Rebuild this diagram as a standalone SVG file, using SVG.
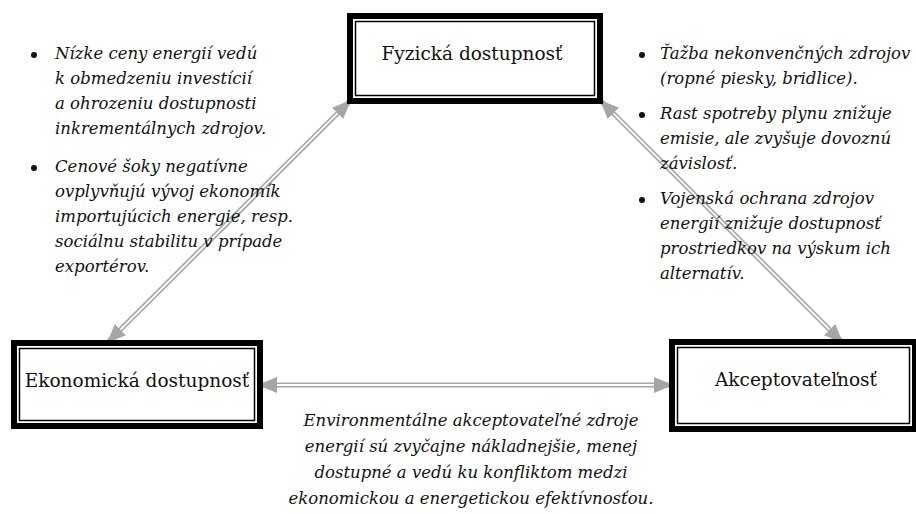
<svg xmlns="http://www.w3.org/2000/svg" width="916" height="514" viewBox="0 0 916 514">
  <defs>
    <marker id="head" markerUnits="userSpaceOnUse" markerWidth="20" markerHeight="17" refX="19" refY="8" orient="auto-start-reverse">
      <path d="M0,0 L19,8 L0,16 Z" fill="#a6a6a6"/>
    </marker>
    <style>
      .outer { fill: none; stroke: #000; stroke-width: 6; }
      .inner { fill: #fff; stroke: #000; stroke-width: 1.5; }
      .label { font-family: "DejaVu Serif", "Liberation Serif", serif; font-size: 18.5px; fill: #111; text-anchor: middle; }
      .note { font-family: "DejaVu Serif", "Liberation Serif", serif; font-style: italic; font-size: 16.5px; fill: #111; }
      .mid { text-anchor: middle; }
      .bullet { fill: #111; }
      .conn-g { fill: none; stroke: #a6a6a6; stroke-width: 5; }
      .conn-w { fill: none; stroke: #fff; stroke-width: 1.8; }
    </style>
  </defs>
  <rect width="916" height="514" fill="#fff"/>

  <g id="connectors">
    <path class="conn-g" d="M351,100 L107,343" marker-start="url(#head)" marker-end="url(#head)"/>
    <path class="conn-w" d="M337.5,113.4 L120.5,329.6"/>
    <path class="conn-g" d="M600,100 L843,343" marker-start="url(#head)" marker-end="url(#head)"/>
    <path class="conn-w" d="M613.4,113.4 L829.6,329.6"/>
    <path class="conn-g" d="M258,385 L673,385" marker-start="url(#head)" marker-end="url(#head)"/>
    <path class="conn-w" d="M277,385 L654,385"/>
  </g>

  <g id="node-fyzicka">
    <rect class="inner" x="355.5" y="21.5" width="239" height="74"/>
    <rect class="outer" x="350" y="16" width="250" height="85"/>
    <text class="label" x="472" y="60">Fyzická dostupnosť</text>
  </g>

  <g id="node-ekonomicka">
    <rect class="inner" x="19.5" y="348.5" width="235" height="72"/>
    <rect class="outer" x="14" y="343" width="246" height="83"/>
    <text class="label" x="137" y="387">Ekonomická dostupnosť</text>
  </g>

  <g id="node-akceptovatelnost">
    <rect class="inner" x="677.5" y="347.5" width="232" height="76"/>
    <rect class="outer" x="672" y="342" width="243" height="87"/>
    <text class="label" x="796" y="386">Akceptovateľnosť</text>
  </g>

  <g id="notes-left">
    <circle class="bullet" cx="34" cy="55" r="3"/>
    <text class="note" x="55" y="59">Nízke ceny energií vedú</text>
    <text class="note" x="55" y="84">k obmedzeniu investícií</text>
    <text class="note" x="55" y="109">a ohrozeniu dostupnosti</text>
    <text class="note" x="55" y="134">inkrementálnych zdrojov.</text>
    <circle class="bullet" cx="34" cy="168" r="3"/>
    <text class="note" x="55" y="172">Cenové šoky negatívne</text>
    <text class="note" x="55" y="197">ovplyvňujú vývoj ekonomík</text>
    <text class="note" x="55" y="222">importujúcich energie, resp.</text>
    <text class="note" x="55" y="247">sociálnu stabilitu v prípade</text>
    <text class="note" x="55" y="272">exportérov.</text>
  </g>

  <g id="notes-right">
    <circle class="bullet" cx="642" cy="55" r="3"/>
    <text class="note" x="660" y="59">Ťažba nekonvenčných zdrojov</text>
    <text class="note" x="660" y="84">(ropné piesky, bridlice).</text>
    <circle class="bullet" cx="642" cy="115" r="3"/>
    <text class="note" x="660" y="119">Rast spotreby plynu znižuje</text>
    <text class="note" x="660" y="144">emisie, ale zvyšuje dovoznú</text>
    <text class="note" x="660" y="169">závislosť.</text>
    <circle class="bullet" cx="642" cy="200" r="3"/>
    <text class="note" x="660" y="204">Vojenská ochrana zdrojov</text>
    <text class="note" x="660" y="229">energií znižuje dostupnosť</text>
    <text class="note" x="660" y="254">prostriedkov na výskum ich</text>
    <text class="note" x="660" y="279">alternatív.</text>
  </g>

  <g id="notes-bottom">
    <text class="note mid" x="471" y="426">Environmentálne akceptovateľné zdroje</text>
    <text class="note mid" x="471" y="452">energií sú zvyčajne nákladnejšie, menej</text>
    <text class="note mid" x="471" y="478">dostupné a vedú ku konfliktom medzi</text>
    <text class="note mid" x="471" y="504">ekonomickou a energetickou efektívnosťou.</text>
  </g>
</svg>
